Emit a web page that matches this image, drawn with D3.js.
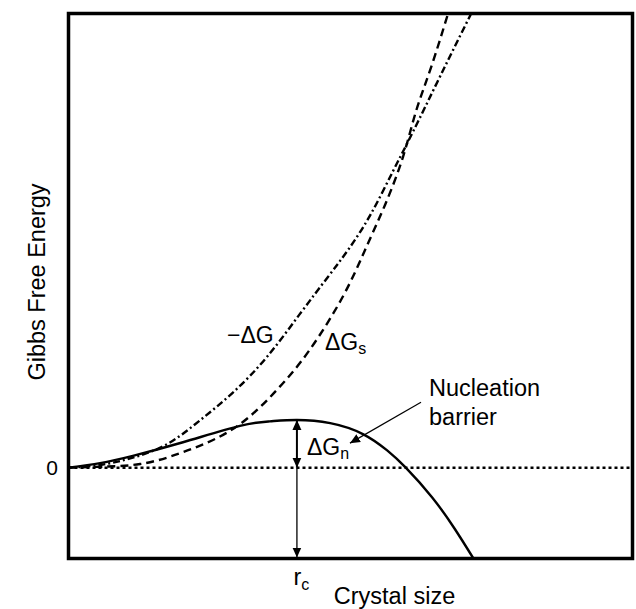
<!DOCTYPE html>
<html>
<head>
<meta charset="utf-8">
<script src="https://cdn.jsdelivr.net/npm/d3@7"></script>
<style>
  body { margin: 0; background: #fff; }
  text { font-family: "Liberation Sans", Arial, Helvetica, sans-serif; fill: #000; }
</style>
</head>
<body>
<svg id="chart"></svg>
<script>
const width = 636, height = 609;
const margin = { top: 13.5, right: 3.5, bottom: 50.5, left: 68.5 };
const plotWidth = width - margin.left - margin.right;
const plotHeight = height - margin.top - margin.bottom;

// Curves: [crystal size, energy]
const netEnergy = [[0, 0], [0.56, 0.05], [1.14, 0.13], [2.03, 0.28], [3.04, 0.46], [3.57, 0.51],
  [4.05, 0.525], [4.64, 0.49], [5.22, 0.37], [5.65, 0.19], [5.98, 0.0], [6.445, -0.325],
  [6.85, -0.675], [7.18, -1.0]];
const surfaceEnergy = [[0, 0], [0.56, 0.01], [1.27, 0.04], [2.03, 0.17], [2.95, 0.44], [3.70, 0.86],
  [4.28, 1.30], [4.87, 1.89], [5.26, 2.40], [5.61, 2.89], [5.93, 3.42], [6.16, 3.92],
  [6.43, 4.41], [6.73, 5.0]];
const volumeEnergy = [[0, 0], [0.56, 0.03], [1.14, 0.11], [1.75, 0.26], [2.33, 0.52], [2.92, 0.83],
  [3.52, 1.22], [4.10, 1.69], [4.60, 2.10], [4.96, 2.40], [5.35, 2.78], [5.75, 3.26],
  [6.11, 3.70], [6.59, 4.31], [7.14, 5.0]];

// Critical size and barrier height
const criticalSize = 4.05;
const barrierHeight = 0.525;

// Tick labels
const yTickValues = [0];
const yTickLabels = ["0"];

const svg = d3.select("#chart")
  .attr("width", width)
  .attr("height", height);

const g = svg.append("g")
  .attr("transform", `translate(${margin.left},${margin.top})`);

const xScale = d3.scaleLinear().domain([0, 10]).range([0, plotWidth]);
const yScale = d3.scaleLinear().domain([-1, 5]).range([plotHeight, 0]);

// Arrow heads
const defs = svg.append("defs");
defs.append("clipPath").attr("id", "clip")
  .append("rect").attr("width", plotWidth).attr("height", plotHeight);

function addMarker(id, size) {
  defs.append("marker")
    .attr("id", id)
    .attr("viewBox", "0 0 10 10")
    .attr("refX", 10).attr("refY", 5)
    .attr("markerUnits", "userSpaceOnUse")
    .attr("markerWidth", size).attr("markerHeight", size)
    .attr("orient", "auto-start-reverse")
    .append("path")
    .attr("d", "M0,0.5 L10,5 L0,9.5 Z")
    .attr("fill", "#000");
}
addMarker("head", 10);
addMarker("headSmall", 10);

const line = d3.line()
  .x(d => xScale(d[0]))
  .y(d => yScale(d[1]))
  .curve(d3.curveNatural);

// Zero line (dotted)
g.append("line")
  .attr("x1", 0).attr("x2", plotWidth)
  .attr("y1", yScale(0)).attr("y2", yScale(0))
  .attr("stroke", "#000")
  .attr("stroke-width", 2.5)
  .attr("stroke-dasharray", "3,3");

const curves = g.append("g").attr("clip-path", "url(#clip)");

curves.append("path")
  .datum(volumeEnergy)
  .attr("d", line)
  .attr("fill", "none")
  .attr("stroke", "#000")
  .attr("stroke-width", 2.4)
  .attr("stroke-dasharray", "7,3,2,3");

curves.append("path")
  .datum(surfaceEnergy)
  .attr("d", line)
  .attr("fill", "none")
  .attr("stroke", "#000")
  .attr("stroke-width", 2.4)
  .attr("stroke-dasharray", "8,5");

curves.append("path")
  .datum(netEnergy)
  .attr("d", line)
  .attr("fill", "none")
  .attr("stroke", "#000")
  .attr("stroke-width", 2.4);

// Barrier arrows at r_c
g.append("line")
  .attr("x1", xScale(criticalSize)).attr("x2", xScale(criticalSize))
  .attr("y1", yScale(barrierHeight)).attr("y2", yScale(0))
  .attr("stroke", "#000").attr("stroke-width", 2)
  .attr("marker-start", "url(#head)")
  .attr("marker-end", "url(#head)");

g.append("line")
  .attr("x1", xScale(criticalSize)).attr("x2", xScale(criticalSize))
  .attr("y1", yScale(0)).attr("y2", yScale(-1) - 1)
  .attr("stroke", "#000").attr("stroke-width", 1.3)
  .attr("marker-end", "url(#headSmall)");

// Pointer to nucleation barrier
g.append("line")
  .attr("x1", xScale(6.25)).attr("y1", yScale(0.72))
  .attr("x2", xScale(4.99)).attr("y2", yScale(0.27))
  .attr("stroke", "#000").attr("stroke-width", 1.2)
  .attr("marker-end", "url(#headSmall)");

// Frame
g.append("rect")
  .attr("width", plotWidth).attr("height", plotHeight)
  .attr("fill", "none")
  .attr("stroke", "#000")
  .attr("stroke-width", 3.5);

// Y tick label
g.selectAll(".ytick")
  .data(yTickValues)
  .enter().append("text")
  .attr("class", "ytick")
  .attr("x", -10.5)
  .attr("y", d => yScale(d) + 7.5)
  .attr("text-anchor", "end")
  .style("font-size", "21px")
  .text((d, i) => yTickLabels[i]);

// X tick label r_c
const rc = g.append("text")
  .attr("x", xScale(criticalSize) - 3.5)
  .attr("y", plotHeight + 26.5)
  .style("font-size", "23.5px");
rc.append("tspan").text("r");
rc.append("tspan").attr("dy", 5).style("font-size", "16px").text("c");

// Axis titles
svg.append("text")
  .attr("transform", `translate(45,282) rotate(-90)`)
  .attr("text-anchor", "middle")
  .style("font-size", "23.5px")
  .text("Gibbs Free Energy");

svg.append("text")
  .attr("x", 394.5).attr("y", 604)
  .attr("text-anchor", "middle")
  .style("font-size", "23.5px")
  .text("Crystal size");

// Curve labels
svg.append("text")
  .attr("x", 227).attr("y", 343)
  .style("font-size", "23px")
  .text("\u2212\u0394G");

const gs = svg.append("text")
  .attr("x", 325).attr("y", 350)
  .style("font-size", "23px");
gs.append("tspan").text("\u0394G");
gs.append("tspan").attr("dy", 4).style("font-size", "16px").text("s");

const gn = svg.append("text")
  .attr("x", 307).attr("y", 455)
  .style("font-size", "23px");
gn.append("tspan").text("\u0394G");
gn.append("tspan").attr("dy", 4).style("font-size", "16px").text("n");

svg.append("text")
  .attr("x", 429).attr("y", 396)
  .style("font-size", "23.5px")
  .text("Nucleation");

svg.append("text")
  .attr("x", 429).attr("y", 425)
  .style("font-size", "23.5px")
  .text("barrier");
</script>
</body>
</html>
